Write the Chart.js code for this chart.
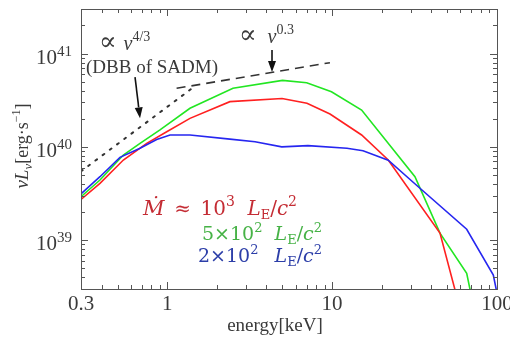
<!DOCTYPE html>
<html>
<head>
<meta charset="utf-8">
<script src="https://cdn.jsdelivr.net/npm/chart.js@4.4.1/dist/chart.umd.min.js"></script>
<style>
  html, body { margin: 0; padding: 0; background: #fff; }
  #wrap { width: 510px; height: 338px; }
</style>
</head>
<body>
<div id="wrap"><canvas id="myChart" width="510" height="338"></canvas></div>
<script>
// spectra, energy in keV, nuLnu in erg/s
const redE = [0.3, 0.391, 0.542, 0.751, 0.993, 1.374, 2.4, 4.97, 7.04, 9.71, 15.1, 21.9, 45.1, 57];
const redL = [2.73e39, 4.07e39, 7.23e39, 1.09e40, 1.45e40, 2.02e40, 3.05e40, 3.3e40, 2.93e40, 2.25e40, 1.34e40, 7.23e39, 1.19e39, 2.5e38];

const greenE = [0.3, 0.391, 0.542, 0.684, 0.904, 1.374, 2.505, 5.0, 7.01, 9.91, 15.1, 31.8, 45.1, 65.5, 70];
const greenL = [2.92e39, 4.41e39, 8.18e39, 1.09e40, 1.52e40, 2.59e40, 4.24e40, 5.16e40, 4.87e40, 3.9e40, 2.48e40, 4.79e39, 1.19e39, 4.42e38, 2.5e38];

const blueE = [0.3, 0.391, 0.517, 0.684, 0.863, 1.04, 1.374, 2.4, 3.41, 4.95, 7.14, 12.3, 15.4, 21.9, 33.3, 65.5, 95, 100];
const blueL = [3.13e39, 4.79e39, 7.73e39, 9.65e39, 1.2e40, 1.34e40, 1.34e40, 1.21e40, 1.135e40, 1.0e40, 1.03e40, 9.65e39, 9.1e39, 7.2e39, 3.74e39, 1.31e39, 4.24e38, 2.7e38];

// power-law guides
const dbbE = [0.3, 1.43];
const dbbL = [5.47e39, 4.3e40];
const slopeE = [1.14, 9.7];
const slopeL = [4.24e40, 7.98e40];

const xTicks = [0.3, 1, 10, 100];
const xTickLabels = ['0.3', '1', '10', '100'];
const yTicks = [1e39, 1e40, 1e41];
const yTickExp = ['39', '40', '41'];

function pts(xs, ys) {
  return xs.map((x, i) => ({ x: x, y: ys[i] }));
}

const SERIF = '"Liberation Serif", "DejaVu Serif", serif';
const WIDE = '"DejaVu Serif", serif';

function fnt(p) {
  return (p.it ? 'italic ' : '') + p.s + 'px ' + (p.w ? WIDE : SERIF);
}

// draws a row of text pieces; g pieces are gaps (px, or stretched to fill x0..x1)
function rich(ctx, parts, x0, x1, y) {
  let w = 0, ng = 0;
  parts.forEach(p => {
    if (p.g) { ng += p.g; return; }
    ctx.font = fnt(p);
    w += ctx.measureText(p.t).width;
  });
  const extra = x1 != null ? Math.max(0, (x1 - x0) - w) : 0;
  let cx = x0;
  parts.forEach(p => {
    if (p.g) { cx += (x1 != null ? extra * p.g / ng : p.g); return; }
    ctx.font = fnt(p);
    ctx.fillText(p.t, cx, y + (p.dy || 0));
    cx += ctx.measureText(p.t).width;
  });
}

function richWidth(ctx, parts) {
  let w = 0;
  parts.forEach(p => {
    if (p.g) { w += p.g; return; }
    ctx.font = fnt(p);
    w += ctx.measureText(p.t).width;
  });
  return w;
}

function arrow(ctx, x1, y1, x2, y2) {
  const a = Math.atan2(y2 - y1, x2 - x1);
  const hl = 11, hw = 4;
  const bx = x2 - hl * Math.cos(a), by = y2 - hl * Math.sin(a);
  ctx.beginPath();
  ctx.moveTo(x1, y1);
  ctx.lineTo(bx, by);
  ctx.stroke();
  ctx.beginPath();
  ctx.moveTo(x2, y2);
  ctx.lineTo(bx + hw * Math.sin(a), by - hw * Math.cos(a));
  ctx.lineTo(bx - hw * Math.sin(a), by + hw * Math.cos(a));
  ctx.closePath();
  ctx.fill();
}

function mdot(ctx, parts, color, x0, x1, y) {
  ctx.fillStyle = color;
  rich(ctx, parts, x0, x1, y);
}

const framePlugin = {
  id: 'frame',
  afterDraw(chart) {
    const ctx = chart.ctx;
    const a = chart.chartArea;
    const xs = chart.scales.x, ys = chart.scales.y;
    ctx.save();

    // box
    ctx.strokeStyle = '#555';
    ctx.lineWidth = 1;
    ctx.strokeRect(Math.round(a.left) + 0.5, Math.round(a.top) + 0.5, Math.round(a.right - a.left), Math.round(a.bottom - a.top));

    // inward ticks on all sides
    ctx.beginPath();
    for (let d = -1; d <= 2; d++) {
      for (let k = 1; k <= 9; k++) {
        const v = k * Math.pow(10, d);
        if (v <= xs.min || v >= xs.max) continue;
        const px = Math.round(xs.getPixelForValue(v)) + 0.5;
        const len = k === 1 ? 7 : 4;
        ctx.moveTo(px, a.bottom); ctx.lineTo(px, a.bottom - len);
        ctx.moveTo(px, a.top); ctx.lineTo(px, a.top + len);
      }
    }
    for (let d = 38; d <= 41; d++) {
      for (let k = 1; k <= 9; k++) {
        const v = k * Math.pow(10, d);
        if (v <= ys.min || v >= ys.max) continue;
        const py = Math.round(ys.getPixelForValue(v)) + 0.5;
        const len = k === 1 ? 7 : 4;
        ctx.moveTo(a.left, py); ctx.lineTo(a.left + len, py);
        ctx.moveTo(a.right, py); ctx.lineTo(a.right - len, py);
      }
    }
    ctx.stroke();

    ctx.fillStyle = '#3a3a3a';
    ctx.textBaseline = 'alphabetic';
    ctx.textAlign = 'left';

    // x tick labels
    xTicks.forEach((v, i) => {
      const px = xs.getPixelForValue(v);
      const parts = [{ t: xTickLabels[i], s: 21 }];
      const w = richWidth(ctx, parts);
      rich(ctx, parts, px - w / 2, null, 310);
    });

    // y tick labels
    yTicks.forEach((v, i) => {
      const py = ys.getPixelForValue(v);
      const parts = [{ t: '10', s: 21 }, { t: yTickExp[i], s: 15, dy: -8 }];
      const w = richWidth(ctx, parts);
      rich(ctx, parts, 72 - w, null, py + 10);
    });

    // axis titles
    const xt = [{ t: 'energy[keV]', s: 19 }];
    rich(ctx, xt, 275 - richWidth(ctx, xt) / 2, null, 331);

    ctx.save();
    ctx.translate(28, 146);
    ctx.rotate(-Math.PI / 2);
    const yt = [{ t: 'νL', s: 19, it: true }, { t: 'ν', s: 13, it: true, dy: 4 },
                { t: '[erg·s', s: 18 }, { t: '−1', s: 12, dy: -8 }, { t: ']', s: 18 }];
    rich(ctx, yt, -richWidth(ctx, yt) / 2, null, 0);
    ctx.restore();

    // guide labels
    rich(ctx, [{ t: '∝', s: 26, w: true }, { g: 7 }, { t: 'ν', s: 20, it: true }, { t: '4/3', s: 14, dy: -9 }], 99, null, 50);
    const dbb = [{ t: '(DBB of SADM)', s: 19 }];
    rich(ctx, dbb, 152 - richWidth(ctx, dbb) / 2, null, 73);
    rich(ctx, [{ t: '∝', s: 26, w: true }, { g: 11 }, { t: 'ν', s: 20, it: true }, { t: '0.3', s: 14, dy: -9 }], 239, null, 43);

    // arrows
    ctx.strokeStyle = '#111';
    ctx.fillStyle = '#111';
    ctx.lineWidth = 1.6;
    arrow(ctx, xs.getPixelForValue(0.638), ys.getPixelForValue(5.6e40),
               xs.getPixelForValue(0.684), ys.getPixelForValue(2.02e40));
    arrow(ctx, xs.getPixelForValue(4.32), ys.getPixelForValue(1.09e41),
               xs.getPixelForValue(4.32), ys.getPixelForValue(6.34e40));

    // accretion-rate labels
    mdot(ctx, [{ t: 'Ṁ', s: 21, it: true, w: true }, { g: 1 }, { t: '≈', s: 20, w: true }, { g: 1 }, { t: '10', s: 20, w: true },
               { t: '3', s: 14, dy: -9, w: true }, { g: 1.3 }, { t: 'L', s: 20, it: true, w: true }, { t: 'E', s: 13, dy: 4, w: true },
               { t: '/', s: 20, w: true }, { t: 'c', s: 20, it: true, w: true }, { t: '2', s: 14, dy: -9, w: true }],
         'rgb(196,44,52)', 143, 297, 215);
    mdot(ctx, [{ t: '5×10', s: 19, w: true }, { t: '2', s: 13, dy: -8, w: true }, { g: 1 },
               { t: 'L', s: 19, it: true, w: true }, { t: 'E', s: 13, dy: 4, w: true }, { t: '/', s: 19, w: true },
               { t: 'c', s: 19, it: true, w: true }, { t: '2', s: 13, dy: -8, w: true }],
         'rgb(70,178,70)', 202, 322, 240);
    mdot(ctx, [{ t: '2×10', s: 19, w: true }, { t: '2', s: 13, dy: -8, w: true }, { g: 1 },
               { t: 'L', s: 19, it: true, w: true }, { t: 'E', s: 13, dy: 4, w: true }, { t: '/', s: 19, w: true },
               { t: 'c', s: 19, it: true, w: true }, { t: '2', s: 13, dy: -8, w: true }],
         'rgb(44,62,168)', 198, 322, 262);

    ctx.restore();
  }
};

const ctx = document.getElementById('myChart');

const config = {
  type: 'line',
  data: {
    datasets: [
      { data: pts(dbbE, dbbL), borderColor: '#333', borderWidth: 2, borderDash: [2, 7], borderCapStyle: 'round' },
      { data: pts(slopeE, slopeL), borderColor: '#333', borderWidth: 1.6, borderDash: [9, 6] },
      { data: pts(blueE, blueL), borderColor: '#2626f0', borderWidth: 1.6 },
      { data: pts(redE, redL), borderColor: '#ff2020', borderWidth: 1.6 },
      { data: pts(greenE, greenL), borderColor: '#22e622', borderWidth: 1.6 }
    ]
  },
  options: {
    responsive: false,
    animation: false,
    devicePixelRatio: 1,
    parsing: false,
    layout: { padding: { left: 81, top: 9, right: 13, bottom: 49 } },
    elements: { point: { radius: 0 }, line: { tension: 0, fill: false } },
    plugins: { legend: { display: false }, tooltip: { enabled: false } },
    scales: {
      x: { type: 'logarithmic', min: 0.3, max: 100, display: false },
      y: { type: 'logarithmic', min: 3e38, max: 3e41, display: false }
    }
  },
  plugins: [framePlugin]
};

if (ctx) {
  const myChart = new Chart(ctx, config);
}
</script>
</body>
</html>
